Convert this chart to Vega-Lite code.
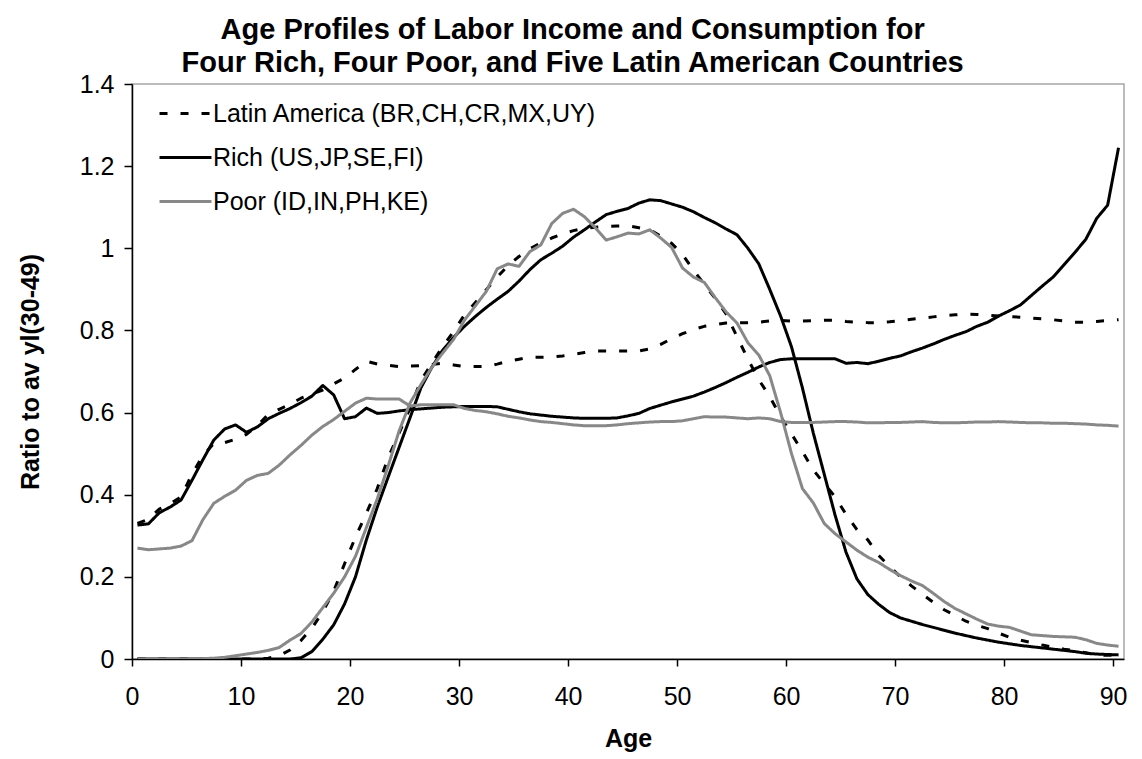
{
  "$schema": "https://vega.github.io/schema/vega-lite/v6.json",
  "width": 992,
  "height": 575,
  "autosize": {"type": "none"},
  "padding": {"left": 132, "top": 84, "right": 18, "bottom": 100},
  "background": "white",
  "title": {
    "text": ["Age Profiles of Labor Income and Consumption for", "Four Rich, Four Poor, and Five Latin American Countries"],
    "font": "Liberation Sans",
    "fontSize": 29,
    "fontWeight": "bold",
    "color": "black",
    "anchor": "middle",
    "frame": "bounds",
    "lineHeight": 33,
    "offset": -6
  },
  "config": {
    "view": {"stroke": "#a6a6a6", "strokeWidth": 1.5},
    "font": "Liberation Sans",
    "legend": {
      "orient": "none",
      "legendX": 26,
      "legendY": 2,
      "symbolType": "stroke",
      "symbolSize": 2700,
      "symbolStrokeWidth": 3,
      "labelFontSize": 25,
      "labelFont": "Liberation Sans",
      "labelColor": "black",
      "labelOffset": 0,
      "labelLimit": 700,
      "rowPadding": 3,
      "padding": 0
    }
  },
  "data": {
    "values": [
      {"a":0,"g":"LA","k":"c","v":0.33},{"a":1,"g":"LA","k":"c","v":0.34},{"a":2,"g":"LA","k":"c","v":0.365},{"a":3,"g":"LA","k":"c","v":0.378},{"a":4,"g":"LA","k":"c","v":0.395},{"a":5,"g":"LA","k":"c","v":0.45},{"a":6,"g":"LA","k":"c","v":0.495},{"a":7,"g":"LA","k":"c","v":0.525},{"a":8,"g":"LA","k":"c","v":0.527},{"a":9,"g":"LA","k":"c","v":0.535},
      {"a":10,"g":"LA","k":"c","v":0.547},{"a":11,"g":"LA","k":"c","v":0.568},{"a":12,"g":"LA","k":"c","v":0.596},{"a":13,"g":"LA","k":"c","v":0.608},{"a":14,"g":"LA","k":"c","v":0.62},{"a":15,"g":"LA","k":"c","v":0.635},{"a":16,"g":"LA","k":"c","v":0.645},{"a":17,"g":"LA","k":"c","v":0.655},{"a":18,"g":"LA","k":"c","v":0.67},{"a":19,"g":"LA","k":"c","v":0.684},
      {"a":20,"g":"LA","k":"c","v":0.705},{"a":21,"g":"LA","k":"c","v":0.725},{"a":22,"g":"LA","k":"c","v":0.718},{"a":23,"g":"LA","k":"c","v":0.715},{"a":24,"g":"LA","k":"c","v":0.712},{"a":25,"g":"LA","k":"c","v":0.713},{"a":26,"g":"LA","k":"c","v":0.714},{"a":27,"g":"LA","k":"c","v":0.717},{"a":28,"g":"LA","k":"c","v":0.72},{"a":29,"g":"LA","k":"c","v":0.716},
      {"a":30,"g":"LA","k":"c","v":0.712},{"a":31,"g":"LA","k":"c","v":0.712},{"a":32,"g":"LA","k":"c","v":0.712},{"a":33,"g":"LA","k":"c","v":0.718},{"a":34,"g":"LA","k":"c","v":0.725},{"a":35,"g":"LA","k":"c","v":0.73},{"a":36,"g":"LA","k":"c","v":0.735},{"a":37,"g":"LA","k":"c","v":0.735},{"a":38,"g":"LA","k":"c","v":0.735},{"a":39,"g":"LA","k":"c","v":0.738},
      {"a":40,"g":"LA","k":"c","v":0.742},{"a":41,"g":"LA","k":"c","v":0.746},{"a":42,"g":"LA","k":"c","v":0.75},{"a":43,"g":"LA","k":"c","v":0.75},{"a":44,"g":"LA","k":"c","v":0.75},{"a":45,"g":"LA","k":"c","v":0.75},{"a":46,"g":"LA","k":"c","v":0.75},{"a":47,"g":"LA","k":"c","v":0.755},{"a":48,"g":"LA","k":"c","v":0.766},{"a":49,"g":"LA","k":"c","v":0.78},
      {"a":50,"g":"LA","k":"c","v":0.792},{"a":51,"g":"LA","k":"c","v":0.802},{"a":52,"g":"LA","k":"c","v":0.81},{"a":53,"g":"LA","k":"c","v":0.814},{"a":54,"g":"LA","k":"c","v":0.818},{"a":55,"g":"LA","k":"c","v":0.819},{"a":56,"g":"LA","k":"c","v":0.819},{"a":57,"g":"LA","k":"c","v":0.82},{"a":58,"g":"LA","k":"c","v":0.823},{"a":59,"g":"LA","k":"c","v":0.824},
      {"a":60,"g":"LA","k":"c","v":0.823},{"a":61,"g":"LA","k":"c","v":0.823},{"a":62,"g":"LA","k":"c","v":0.824},{"a":63,"g":"LA","k":"c","v":0.825},{"a":64,"g":"LA","k":"c","v":0.825},{"a":65,"g":"LA","k":"c","v":0.822},{"a":66,"g":"LA","k":"c","v":0.82},{"a":67,"g":"LA","k":"c","v":0.819},{"a":68,"g":"LA","k":"c","v":0.819},{"a":69,"g":"LA","k":"c","v":0.821},
      {"a":70,"g":"LA","k":"c","v":0.824},{"a":71,"g":"LA","k":"c","v":0.827},{"a":72,"g":"LA","k":"c","v":0.83},{"a":73,"g":"LA","k":"c","v":0.833},{"a":74,"g":"LA","k":"c","v":0.836},{"a":75,"g":"LA","k":"c","v":0.838},{"a":76,"g":"LA","k":"c","v":0.84},{"a":77,"g":"LA","k":"c","v":0.839},{"a":78,"g":"LA","k":"c","v":0.837},{"a":79,"g":"LA","k":"c","v":0.835},
      {"a":80,"g":"LA","k":"c","v":0.834},{"a":81,"g":"LA","k":"c","v":0.832},{"a":82,"g":"LA","k":"c","v":0.83},{"a":83,"g":"LA","k":"c","v":0.828},{"a":84,"g":"LA","k":"c","v":0.826},{"a":85,"g":"LA","k":"c","v":0.823},{"a":86,"g":"LA","k":"c","v":0.82},{"a":87,"g":"LA","k":"c","v":0.82},{"a":88,"g":"LA","k":"c","v":0.822},{"a":89,"g":"LA","k":"c","v":0.824},{"a":90,"g":"LA","k":"c","v":0.826},

      {"a":0,"g":"LA","k":"y","v":0},{"a":1,"g":"LA","k":"y","v":0},{"a":2,"g":"LA","k":"y","v":0},{"a":3,"g":"LA","k":"y","v":0},{"a":4,"g":"LA","k":"y","v":0},{"a":5,"g":"LA","k":"y","v":0},{"a":6,"g":"LA","k":"y","v":0},{"a":7,"g":"LA","k":"y","v":0},{"a":8,"g":"LA","k":"y","v":0},{"a":9,"g":"LA","k":"y","v":0},
      {"a":10,"g":"LA","k":"y","v":0},{"a":11,"g":"LA","k":"y","v":0},{"a":12,"g":"LA","k":"y","v":0.002},{"a":13,"g":"LA","k":"y","v":0.008},{"a":14,"g":"LA","k":"y","v":0.022},{"a":15,"g":"LA","k":"y","v":0.045},{"a":16,"g":"LA","k":"y","v":0.075},{"a":17,"g":"LA","k":"y","v":0.115},{"a":18,"g":"LA","k":"y","v":0.165},{"a":19,"g":"LA","k":"y","v":0.232},
      {"a":20,"g":"LA","k":"y","v":0.297},{"a":21,"g":"LA","k":"y","v":0.355},{"a":22,"g":"LA","k":"y","v":0.415},{"a":23,"g":"LA","k":"y","v":0.49},{"a":24,"g":"LA","k":"y","v":0.55},{"a":25,"g":"LA","k":"y","v":0.61},{"a":26,"g":"LA","k":"y","v":0.678},{"a":27,"g":"LA","k":"y","v":0.72},{"a":28,"g":"LA","k":"y","v":0.761},{"a":29,"g":"LA","k":"y","v":0.797},
      {"a":30,"g":"LA","k":"y","v":0.838},{"a":31,"g":"LA","k":"y","v":0.868},{"a":32,"g":"LA","k":"y","v":0.899},{"a":33,"g":"LA","k":"y","v":0.93},{"a":34,"g":"LA","k":"y","v":0.958},{"a":35,"g":"LA","k":"y","v":0.98},{"a":36,"g":"LA","k":"y","v":0.999},{"a":37,"g":"LA","k":"y","v":1.013},{"a":38,"g":"LA","k":"y","v":1.025},{"a":39,"g":"LA","k":"y","v":1.035},
      {"a":40,"g":"LA","k":"y","v":1.043},{"a":41,"g":"LA","k":"y","v":1.049},{"a":42,"g":"LA","k":"y","v":1.051},{"a":43,"g":"LA","k":"y","v":1.053},{"a":44,"g":"LA","k":"y","v":1.054},{"a":45,"g":"LA","k":"y","v":1.055},{"a":46,"g":"LA","k":"y","v":1.05},{"a":47,"g":"LA","k":"y","v":1.045},{"a":48,"g":"LA","k":"y","v":1.03},{"a":49,"g":"LA","k":"y","v":1.012},
      {"a":50,"g":"LA","k":"y","v":0.985},{"a":51,"g":"LA","k":"y","v":0.947},{"a":52,"g":"LA","k":"y","v":0.912},{"a":53,"g":"LA","k":"y","v":0.878},{"a":54,"g":"LA","k":"y","v":0.84},{"a":55,"g":"LA","k":"y","v":0.785},{"a":56,"g":"LA","k":"y","v":0.73},{"a":57,"g":"LA","k":"y","v":0.68},{"a":58,"g":"LA","k":"y","v":0.639},{"a":59,"g":"LA","k":"y","v":0.59},
      {"a":60,"g":"LA","k":"y","v":0.548},{"a":61,"g":"LA","k":"y","v":0.505},{"a":62,"g":"LA","k":"y","v":0.46},{"a":63,"g":"LA","k":"y","v":0.427},{"a":64,"g":"LA","k":"y","v":0.395},{"a":65,"g":"LA","k":"y","v":0.352},{"a":66,"g":"LA","k":"y","v":0.315},{"a":67,"g":"LA","k":"y","v":0.29},{"a":68,"g":"LA","k":"y","v":0.252},{"a":69,"g":"LA","k":"y","v":0.225},
      {"a":70,"g":"LA","k":"y","v":0.2},{"a":71,"g":"LA","k":"y","v":0.178},{"a":72,"g":"LA","k":"y","v":0.158},{"a":73,"g":"LA","k":"y","v":0.138},{"a":74,"g":"LA","k":"y","v":0.12},{"a":75,"g":"LA","k":"y","v":0.106},{"a":76,"g":"LA","k":"y","v":0.092},{"a":77,"g":"LA","k":"y","v":0.082},{"a":78,"g":"LA","k":"y","v":0.074},{"a":79,"g":"LA","k":"y","v":0.063},
      {"a":80,"g":"LA","k":"y","v":0.053},{"a":81,"g":"LA","k":"y","v":0.046},{"a":82,"g":"LA","k":"y","v":0.04},{"a":83,"g":"LA","k":"y","v":0.034},{"a":84,"g":"LA","k":"y","v":0.029},{"a":85,"g":"LA","k":"y","v":0.024},{"a":86,"g":"LA","k":"y","v":0.02},{"a":87,"g":"LA","k":"y","v":0.015},{"a":88,"g":"LA","k":"y","v":0.01},{"a":89,"g":"LA","k":"y","v":0.009},{"a":90,"g":"LA","k":"y","v":0.009},

      {"a":0,"g":"Rich","k":"c","v":0.326},{"a":1,"g":"Rich","k":"c","v":0.329},{"a":2,"g":"Rich","k":"c","v":0.356},{"a":3,"g":"Rich","k":"c","v":0.37},{"a":4,"g":"Rich","k":"c","v":0.387},{"a":5,"g":"Rich","k":"c","v":0.435},{"a":6,"g":"Rich","k":"c","v":0.485},{"a":7,"g":"Rich","k":"c","v":0.533},{"a":8,"g":"Rich","k":"c","v":0.56},{"a":9,"g":"Rich","k":"c","v":0.57},
      {"a":10,"g":"Rich","k":"c","v":0.552},{"a":11,"g":"Rich","k":"c","v":0.565},{"a":12,"g":"Rich","k":"c","v":0.585},{"a":13,"g":"Rich","k":"c","v":0.598},{"a":14,"g":"Rich","k":"c","v":0.61},{"a":15,"g":"Rich","k":"c","v":0.624},{"a":16,"g":"Rich","k":"c","v":0.64},{"a":17,"g":"Rich","k":"c","v":0.666},{"a":18,"g":"Rich","k":"c","v":0.643},{"a":19,"g":"Rich","k":"c","v":0.585},
      {"a":20,"g":"Rich","k":"c","v":0.59},{"a":21,"g":"Rich","k":"c","v":0.611},{"a":22,"g":"Rich","k":"c","v":0.598},{"a":23,"g":"Rich","k":"c","v":0.6},{"a":24,"g":"Rich","k":"c","v":0.604},{"a":25,"g":"Rich","k":"c","v":0.607},{"a":26,"g":"Rich","k":"c","v":0.609},{"a":27,"g":"Rich","k":"c","v":0.611},{"a":28,"g":"Rich","k":"c","v":0.613},{"a":29,"g":"Rich","k":"c","v":0.614},
      {"a":30,"g":"Rich","k":"c","v":0.615},{"a":31,"g":"Rich","k":"c","v":0.615},{"a":32,"g":"Rich","k":"c","v":0.615},{"a":33,"g":"Rich","k":"c","v":0.614},{"a":34,"g":"Rich","k":"c","v":0.608},{"a":35,"g":"Rich","k":"c","v":0.602},{"a":36,"g":"Rich","k":"c","v":0.597},{"a":37,"g":"Rich","k":"c","v":0.594},{"a":38,"g":"Rich","k":"c","v":0.591},{"a":39,"g":"Rich","k":"c","v":0.589},
      {"a":40,"g":"Rich","k":"c","v":0.587},{"a":41,"g":"Rich","k":"c","v":0.586},{"a":42,"g":"Rich","k":"c","v":0.586},{"a":43,"g":"Rich","k":"c","v":0.586},{"a":44,"g":"Rich","k":"c","v":0.587},{"a":45,"g":"Rich","k":"c","v":0.592},{"a":46,"g":"Rich","k":"c","v":0.598},{"a":47,"g":"Rich","k":"c","v":0.61},{"a":48,"g":"Rich","k":"c","v":0.618},{"a":49,"g":"Rich","k":"c","v":0.626},
      {"a":50,"g":"Rich","k":"c","v":0.633},{"a":51,"g":"Rich","k":"c","v":0.64},{"a":52,"g":"Rich","k":"c","v":0.65},{"a":53,"g":"Rich","k":"c","v":0.661},{"a":54,"g":"Rich","k":"c","v":0.673},{"a":55,"g":"Rich","k":"c","v":0.686},{"a":56,"g":"Rich","k":"c","v":0.698},{"a":57,"g":"Rich","k":"c","v":0.711},{"a":58,"g":"Rich","k":"c","v":0.722},{"a":59,"g":"Rich","k":"c","v":0.729},
      {"a":60,"g":"Rich","k":"c","v":0.731},{"a":61,"g":"Rich","k":"c","v":0.731},{"a":62,"g":"Rich","k":"c","v":0.731},{"a":63,"g":"Rich","k":"c","v":0.731},{"a":64,"g":"Rich","k":"c","v":0.731},{"a":65,"g":"Rich","k":"c","v":0.72},{"a":66,"g":"Rich","k":"c","v":0.722},{"a":67,"g":"Rich","k":"c","v":0.719},{"a":68,"g":"Rich","k":"c","v":0.725},{"a":69,"g":"Rich","k":"c","v":0.732},
      {"a":70,"g":"Rich","k":"c","v":0.738},{"a":71,"g":"Rich","k":"c","v":0.748},{"a":72,"g":"Rich","k":"c","v":0.757},{"a":73,"g":"Rich","k":"c","v":0.767},{"a":74,"g":"Rich","k":"c","v":0.778},{"a":75,"g":"Rich","k":"c","v":0.788},{"a":76,"g":"Rich","k":"c","v":0.797},{"a":77,"g":"Rich","k":"c","v":0.81},{"a":78,"g":"Rich","k":"c","v":0.82},{"a":79,"g":"Rich","k":"c","v":0.835},
      {"a":80,"g":"Rich","k":"c","v":0.848},{"a":81,"g":"Rich","k":"c","v":0.862},{"a":82,"g":"Rich","k":"c","v":0.885},{"a":83,"g":"Rich","k":"c","v":0.908},{"a":84,"g":"Rich","k":"c","v":0.93},{"a":85,"g":"Rich","k":"c","v":0.96},{"a":86,"g":"Rich","k":"c","v":0.99},{"a":87,"g":"Rich","k":"c","v":1.022},{"a":88,"g":"Rich","k":"c","v":1.073},{"a":89,"g":"Rich","k":"c","v":1.105},{"a":90,"g":"Rich","k":"c","v":1.245},

      {"a":0,"g":"Rich","k":"y","v":0},{"a":1,"g":"Rich","k":"y","v":0},{"a":2,"g":"Rich","k":"y","v":0},{"a":3,"g":"Rich","k":"y","v":0},{"a":4,"g":"Rich","k":"y","v":0},{"a":5,"g":"Rich","k":"y","v":0},{"a":6,"g":"Rich","k":"y","v":0},{"a":7,"g":"Rich","k":"y","v":0},{"a":8,"g":"Rich","k":"y","v":0},{"a":9,"g":"Rich","k":"y","v":0},
      {"a":10,"g":"Rich","k":"y","v":0},{"a":11,"g":"Rich","k":"y","v":0},{"a":12,"g":"Rich","k":"y","v":0},{"a":13,"g":"Rich","k":"y","v":0},{"a":14,"g":"Rich","k":"y","v":0},{"a":15,"g":"Rich","k":"y","v":0.003},{"a":16,"g":"Rich","k":"y","v":0.018},{"a":17,"g":"Rich","k":"y","v":0.048},{"a":18,"g":"Rich","k":"y","v":0.083},{"a":19,"g":"Rich","k":"y","v":0.134},
      {"a":20,"g":"Rich","k":"y","v":0.2},{"a":21,"g":"Rich","k":"y","v":0.29},{"a":22,"g":"Rich","k":"y","v":0.37},{"a":23,"g":"Rich","k":"y","v":0.443},{"a":24,"g":"Rich","k":"y","v":0.515},{"a":25,"g":"Rich","k":"y","v":0.587},{"a":26,"g":"Rich","k":"y","v":0.66},{"a":27,"g":"Rich","k":"y","v":0.71},{"a":28,"g":"Rich","k":"y","v":0.752},{"a":29,"g":"Rich","k":"y","v":0.783},
      {"a":30,"g":"Rich","k":"y","v":0.81},{"a":31,"g":"Rich","k":"y","v":0.834},{"a":32,"g":"Rich","k":"y","v":0.856},{"a":33,"g":"Rich","k":"y","v":0.876},{"a":34,"g":"Rich","k":"y","v":0.895},{"a":35,"g":"Rich","k":"y","v":0.92},{"a":36,"g":"Rich","k":"y","v":0.948},{"a":37,"g":"Rich","k":"y","v":0.972},{"a":38,"g":"Rich","k":"y","v":0.988},{"a":39,"g":"Rich","k":"y","v":1.005},
      {"a":40,"g":"Rich","k":"y","v":1.027},{"a":41,"g":"Rich","k":"y","v":1.045},{"a":42,"g":"Rich","k":"y","v":1.064},{"a":43,"g":"Rich","k":"y","v":1.082},{"a":44,"g":"Rich","k":"y","v":1.09},{"a":45,"g":"Rich","k":"y","v":1.097},{"a":46,"g":"Rich","k":"y","v":1.11},{"a":47,"g":"Rich","k":"y","v":1.118},{"a":48,"g":"Rich","k":"y","v":1.116},{"a":49,"g":"Rich","k":"y","v":1.108},
      {"a":50,"g":"Rich","k":"y","v":1.1},{"a":51,"g":"Rich","k":"y","v":1.089},{"a":52,"g":"Rich","k":"y","v":1.075},{"a":53,"g":"Rich","k":"y","v":1.062},{"a":54,"g":"Rich","k":"y","v":1.047},{"a":55,"g":"Rich","k":"y","v":1.033},{"a":56,"g":"Rich","k":"y","v":1.0},{"a":57,"g":"Rich","k":"y","v":0.962},{"a":58,"g":"Rich","k":"y","v":0.9},{"a":59,"g":"Rich","k":"y","v":0.835},
      {"a":60,"g":"Rich","k":"y","v":0.76},{"a":61,"g":"Rich","k":"y","v":0.66},{"a":62,"g":"Rich","k":"y","v":0.55},{"a":63,"g":"Rich","k":"y","v":0.45},{"a":64,"g":"Rich","k":"y","v":0.35},{"a":65,"g":"Rich","k":"y","v":0.26},{"a":66,"g":"Rich","k":"y","v":0.195},{"a":67,"g":"Rich","k":"y","v":0.157},{"a":68,"g":"Rich","k":"y","v":0.133},{"a":69,"g":"Rich","k":"y","v":0.113},
      {"a":70,"g":"Rich","k":"y","v":0.1},{"a":71,"g":"Rich","k":"y","v":0.092},{"a":72,"g":"Rich","k":"y","v":0.084},{"a":73,"g":"Rich","k":"y","v":0.077},{"a":74,"g":"Rich","k":"y","v":0.07},{"a":75,"g":"Rich","k":"y","v":0.063},{"a":76,"g":"Rich","k":"y","v":0.057},{"a":77,"g":"Rich","k":"y","v":0.051},{"a":78,"g":"Rich","k":"y","v":0.046},{"a":79,"g":"Rich","k":"y","v":0.041},
      {"a":80,"g":"Rich","k":"y","v":0.037},{"a":81,"g":"Rich","k":"y","v":0.033},{"a":82,"g":"Rich","k":"y","v":0.03},{"a":83,"g":"Rich","k":"y","v":0.027},{"a":84,"g":"Rich","k":"y","v":0.024},{"a":85,"g":"Rich","k":"y","v":0.021},{"a":86,"g":"Rich","k":"y","v":0.018},{"a":87,"g":"Rich","k":"y","v":0.014},{"a":88,"g":"Rich","k":"y","v":0.012},{"a":89,"g":"Rich","k":"y","v":0.011},{"a":90,"g":"Rich","k":"y","v":0.01},

      {"a":0,"g":"Poor","k":"c","v":0.27},{"a":1,"g":"Poor","k":"c","v":0.266},{"a":2,"g":"Poor","k":"c","v":0.268},{"a":3,"g":"Poor","k":"c","v":0.27},{"a":4,"g":"Poor","k":"c","v":0.275},{"a":5,"g":"Poor","k":"c","v":0.288},{"a":6,"g":"Poor","k":"c","v":0.339},{"a":7,"g":"Poor","k":"c","v":0.379},{"a":8,"g":"Poor","k":"c","v":0.396},{"a":9,"g":"Poor","k":"c","v":0.411},
      {"a":10,"g":"Poor","k":"c","v":0.435},{"a":11,"g":"Poor","k":"c","v":0.447},{"a":12,"g":"Poor","k":"c","v":0.452},{"a":13,"g":"Poor","k":"c","v":0.472},{"a":14,"g":"Poor","k":"c","v":0.497},{"a":15,"g":"Poor","k":"c","v":0.52},{"a":16,"g":"Poor","k":"c","v":0.545},{"a":17,"g":"Poor","k":"c","v":0.566},{"a":18,"g":"Poor","k":"c","v":0.583},{"a":19,"g":"Poor","k":"c","v":0.603},
      {"a":20,"g":"Poor","k":"c","v":0.623},{"a":21,"g":"Poor","k":"c","v":0.635},{"a":22,"g":"Poor","k":"c","v":0.633},{"a":23,"g":"Poor","k":"c","v":0.633},{"a":24,"g":"Poor","k":"c","v":0.633},{"a":25,"g":"Poor","k":"c","v":0.616},{"a":26,"g":"Poor","k":"c","v":0.619},{"a":27,"g":"Poor","k":"c","v":0.619},{"a":28,"g":"Poor","k":"c","v":0.619},{"a":29,"g":"Poor","k":"c","v":0.619},
      {"a":30,"g":"Poor","k":"c","v":0.61},{"a":31,"g":"Poor","k":"c","v":0.605},{"a":32,"g":"Poor","k":"c","v":0.602},{"a":33,"g":"Poor","k":"c","v":0.597},{"a":34,"g":"Poor","k":"c","v":0.591},{"a":35,"g":"Poor","k":"c","v":0.587},{"a":36,"g":"Poor","k":"c","v":0.582},{"a":37,"g":"Poor","k":"c","v":0.578},{"a":38,"g":"Poor","k":"c","v":0.576},{"a":39,"g":"Poor","k":"c","v":0.573},
      {"a":40,"g":"Poor","k":"c","v":0.57},{"a":41,"g":"Poor","k":"c","v":0.568},{"a":42,"g":"Poor","k":"c","v":0.568},{"a":43,"g":"Poor","k":"c","v":0.568},{"a":44,"g":"Poor","k":"c","v":0.57},{"a":45,"g":"Poor","k":"c","v":0.573},{"a":46,"g":"Poor","k":"c","v":0.575},{"a":47,"g":"Poor","k":"c","v":0.577},{"a":48,"g":"Poor","k":"c","v":0.578},{"a":49,"g":"Poor","k":"c","v":0.578},
      {"a":50,"g":"Poor","k":"c","v":0.58},{"a":51,"g":"Poor","k":"c","v":0.585},{"a":52,"g":"Poor","k":"c","v":0.59},{"a":53,"g":"Poor","k":"c","v":0.589},{"a":54,"g":"Poor","k":"c","v":0.589},{"a":55,"g":"Poor","k":"c","v":0.587},{"a":56,"g":"Poor","k":"c","v":0.585},{"a":57,"g":"Poor","k":"c","v":0.587},{"a":58,"g":"Poor","k":"c","v":0.585},{"a":59,"g":"Poor","k":"c","v":0.578},
      {"a":60,"g":"Poor","k":"c","v":0.576},{"a":61,"g":"Poor","k":"c","v":0.576},{"a":62,"g":"Poor","k":"c","v":0.576},{"a":63,"g":"Poor","k":"c","v":0.577},{"a":64,"g":"Poor","k":"c","v":0.578},{"a":65,"g":"Poor","k":"c","v":0.578},{"a":66,"g":"Poor","k":"c","v":0.577},{"a":67,"g":"Poor","k":"c","v":0.575},{"a":68,"g":"Poor","k":"c","v":0.575},{"a":69,"g":"Poor","k":"c","v":0.576},
      {"a":70,"g":"Poor","k":"c","v":0.576},{"a":71,"g":"Poor","k":"c","v":0.577},{"a":72,"g":"Poor","k":"c","v":0.578},{"a":73,"g":"Poor","k":"c","v":0.576},{"a":74,"g":"Poor","k":"c","v":0.575},{"a":75,"g":"Poor","k":"c","v":0.575},{"a":76,"g":"Poor","k":"c","v":0.576},{"a":77,"g":"Poor","k":"c","v":0.577},{"a":78,"g":"Poor","k":"c","v":0.577},{"a":79,"g":"Poor","k":"c","v":0.578},
      {"a":80,"g":"Poor","k":"c","v":0.577},{"a":81,"g":"Poor","k":"c","v":0.576},{"a":82,"g":"Poor","k":"c","v":0.575},{"a":83,"g":"Poor","k":"c","v":0.575},{"a":84,"g":"Poor","k":"c","v":0.574},{"a":85,"g":"Poor","k":"c","v":0.574},{"a":86,"g":"Poor","k":"c","v":0.573},{"a":87,"g":"Poor","k":"c","v":0.572},{"a":88,"g":"Poor","k":"c","v":0.57},{"a":89,"g":"Poor","k":"c","v":0.569},{"a":90,"g":"Poor","k":"c","v":0.567},

      {"a":0,"g":"Poor","k":"y","v":0},{"a":1,"g":"Poor","k":"y","v":0},{"a":2,"g":"Poor","k":"y","v":0},{"a":3,"g":"Poor","k":"y","v":0},{"a":4,"g":"Poor","k":"y","v":0},{"a":5,"g":"Poor","k":"y","v":0},{"a":6,"g":"Poor","k":"y","v":0.001},{"a":7,"g":"Poor","k":"y","v":0.002},{"a":8,"g":"Poor","k":"y","v":0.004},{"a":9,"g":"Poor","k":"y","v":0.008},
      {"a":10,"g":"Poor","k":"y","v":0.012},{"a":11,"g":"Poor","k":"y","v":0.016},{"a":12,"g":"Poor","k":"y","v":0.021},{"a":13,"g":"Poor","k":"y","v":0.028},{"a":14,"g":"Poor","k":"y","v":0.046},{"a":15,"g":"Poor","k":"y","v":0.062},{"a":16,"g":"Poor","k":"y","v":0.09},{"a":17,"g":"Poor","k":"y","v":0.125},{"a":18,"g":"Poor","k":"y","v":0.16},{"a":19,"g":"Poor","k":"y","v":0.2},
      {"a":20,"g":"Poor","k":"y","v":0.25},{"a":21,"g":"Poor","k":"y","v":0.32},{"a":22,"g":"Poor","k":"y","v":0.39},{"a":23,"g":"Poor","k":"y","v":0.47},{"a":24,"g":"Poor","k":"y","v":0.555},{"a":25,"g":"Poor","k":"y","v":0.623},{"a":26,"g":"Poor","k":"y","v":0.668},{"a":27,"g":"Poor","k":"y","v":0.71},{"a":28,"g":"Poor","k":"y","v":0.745},{"a":29,"g":"Poor","k":"y","v":0.778},
      {"a":30,"g":"Poor","k":"y","v":0.825},{"a":31,"g":"Poor","k":"y","v":0.86},{"a":32,"g":"Poor","k":"y","v":0.895},{"a":33,"g":"Poor","k":"y","v":0.95},{"a":34,"g":"Poor","k":"y","v":0.962},{"a":35,"g":"Poor","k":"y","v":0.956},{"a":36,"g":"Poor","k":"y","v":0.992},{"a":37,"g":"Poor","k":"y","v":1.008},{"a":38,"g":"Poor","k":"y","v":1.06},{"a":39,"g":"Poor","k":"y","v":1.085},
      {"a":40,"g":"Poor","k":"y","v":1.095},{"a":41,"g":"Poor","k":"y","v":1.077},{"a":42,"g":"Poor","k":"y","v":1.05},{"a":43,"g":"Poor","k":"y","v":1.02},{"a":44,"g":"Poor","k":"y","v":1.028},{"a":45,"g":"Poor","k":"y","v":1.037},{"a":46,"g":"Poor","k":"y","v":1.035},{"a":47,"g":"Poor","k":"y","v":1.045},{"a":48,"g":"Poor","k":"y","v":1.025},{"a":49,"g":"Poor","k":"y","v":1.002},
      {"a":50,"g":"Poor","k":"y","v":0.952},{"a":51,"g":"Poor","k":"y","v":0.93},{"a":52,"g":"Poor","k":"y","v":0.917},{"a":53,"g":"Poor","k":"y","v":0.88},{"a":54,"g":"Poor","k":"y","v":0.845},{"a":55,"g":"Poor","k":"y","v":0.818},{"a":56,"g":"Poor","k":"y","v":0.77},{"a":57,"g":"Poor","k":"y","v":0.74},{"a":58,"g":"Poor","k":"y","v":0.69},{"a":59,"g":"Poor","k":"y","v":0.6},
      {"a":60,"g":"Poor","k":"y","v":0.5},{"a":61,"g":"Poor","k":"y","v":0.415},{"a":62,"g":"Poor","k":"y","v":0.38},{"a":63,"g":"Poor","k":"y","v":0.33},{"a":64,"g":"Poor","k":"y","v":0.305},{"a":65,"g":"Poor","k":"y","v":0.285},{"a":66,"g":"Poor","k":"y","v":0.265},{"a":67,"g":"Poor","k":"y","v":0.248},{"a":68,"g":"Poor","k":"y","v":0.235},{"a":69,"g":"Poor","k":"y","v":0.218},
      {"a":70,"g":"Poor","k":"y","v":0.203},{"a":71,"g":"Poor","k":"y","v":0.19},{"a":72,"g":"Poor","k":"y","v":0.179},{"a":73,"g":"Poor","k":"y","v":0.16},{"a":74,"g":"Poor","k":"y","v":0.14},{"a":75,"g":"Poor","k":"y","v":0.123},{"a":76,"g":"Poor","k":"y","v":0.11},{"a":77,"g":"Poor","k":"y","v":0.097},{"a":78,"g":"Poor","k":"y","v":0.085},{"a":79,"g":"Poor","k":"y","v":0.08},
      {"a":80,"g":"Poor","k":"y","v":0.077},{"a":81,"g":"Poor","k":"y","v":0.068},{"a":82,"g":"Poor","k":"y","v":0.059},{"a":83,"g":"Poor","k":"y","v":0.057},{"a":84,"g":"Poor","k":"y","v":0.055},{"a":85,"g":"Poor","k":"y","v":0.054},{"a":86,"g":"Poor","k":"y","v":0.053},{"a":87,"g":"Poor","k":"y","v":0.047},{"a":88,"g":"Poor","k":"y","v":0.038},{"a":89,"g":"Poor","k":"y","v":0.034},{"a":90,"g":"Poor","k":"y","v":0.031}
    ]
  },
  "mark": {"type": "line", "strokeWidth": 3, "strokeCap": "butt", "strokeJoin": "round", "clip": true},
  "encoding": {
    "x": {
      "field": "a",
      "type": "quantitative",
      "scale": {"domain": [-0.5, 90.5], "nice": false, "zero": false},
      "axis": {
        "values": [-0.5, 9.5, 19.5, 29.5, 39.5, 49.5, 59.5, 69.5, 79.5, 89.5],
        "labelExpr": "format(datum.value + 0.5, 'd')",
        "labelDx": 5.45,
        "labelFontSize": 25,
        "labelFont": "Liberation Sans",
        "labelColor": "black",
        "labelPadding": 18,
        "labelFlush": false,
        "labelOverlap": false,
        "tickSize": 7,
        "tickColor": "black",
        "tickWidth": 1.5,
        "domainColor": "black",
        "domainWidth": 1.5,
        "grid": false,
        "title": "Age",
        "titleFont": "Liberation Sans",
        "titleFontSize": 25,
        "titleFontWeight": "bold",
        "titleColor": "black",
        "titlePadding": 17
      }
    },
    "y": {
      "field": "v",
      "type": "quantitative",
      "scale": {"domain": [0, 1.4], "nice": false},
      "axis": {
        "values": [0, 0.2, 0.4, 0.6, 0.8, 1, 1.2, 1.4],
        "format": "~g",
        "labelFontSize": 25,
        "labelFont": "Liberation Sans",
        "labelColor": "black",
        "labelPadding": 10,
        "labelFlush": false,
        "labelOverlap": false,
        "tickSize": 8,
        "tickColor": "black",
        "tickWidth": 1.5,
        "domainColor": "black",
        "domainWidth": 1.5,
        "grid": false,
        "title": "Ratio to av yl(30-49)",
        "titleFont": "Liberation Sans",
        "titleFontSize": 25,
        "titleFontWeight": "bold",
        "titleColor": "black",
        "titlePadding": 36
      }
    },
    "color": {
      "field": "g",
      "type": "nominal",
      "scale": {"domain": ["LA", "Rich", "Poor"], "range": ["#000000", "#000000", "#888888"]},
      "legend": {"title": null, "labelExpr": "datum.label == 'LA' ? 'Latin America (BR,CH,CR,MX,UY)' : datum.label == 'Rich' ? 'Rich (US,JP,SE,FI)' : 'Poor (ID,IN,PH,KE)'"}
    },
    "strokeDash": {
      "field": "g",
      "type": "nominal",
      "scale": {"domain": ["LA", "Rich", "Poor"], "range": [[8, 13], [1, 0], [1, 0]]},
      "legend": {"title": null, "labelExpr": "datum.label == 'LA' ? 'Latin America (BR,CH,CR,MX,UY)' : datum.label == 'Rich' ? 'Rich (US,JP,SE,FI)' : 'Poor (ID,IN,PH,KE)'"}
    },
    "detail": {"field": "k", "type": "nominal"}
  }
}
